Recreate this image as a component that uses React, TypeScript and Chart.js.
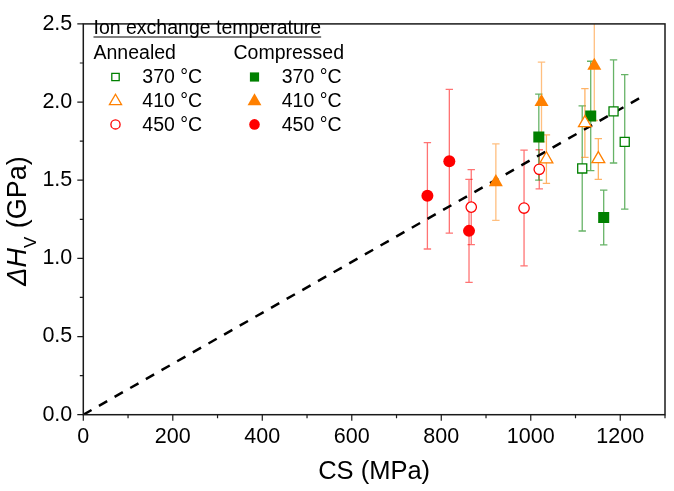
import { useEffect, useRef } from "react"
import { Chart, registerables } from "chart.js"

Chart.register(...registerables)

// values (CS in MPa, ΔHv in GPa, error = ± half bar)
const annealed370X = [1115, 1185, 1210]
const annealed370Y = [1.575, 1.94, 1.745]
const annealed370Err = [0.4, 0.33, 0.43]

const annealed410X = [1035, 1121, 1151]
const annealed410Y = [1.635, 1.866, 1.636]
const annealed410Err = [0.155, 0.22, 0.13]

const annealed450X = [867, 985, 1019]
const annealed450Y = [1.328, 1.322, 1.57]
const annealed450Err = [0.24, 0.37, 0.125]

const compressed370X = [1018, 1134, 1163]
const compressed370Y = [1.776, 1.911, 1.262]
const compressed370Err = [0.275, 0.35, 0.175]

const compressed410X = [922, 1024, 1142]
const compressed410Y = [1.488, 2.0, 2.232]
const compressed410Err = [0.245, 0.255, 0.35]

const compressed450X = [769, 818, 862]
const compressed450Y = [1.4, 1.621, 1.176]
const compressed450Err = [0.34, 0.46, 0.33]

const fitX = [0, 1254]
const fitY = [0, 2.043]

const xTicks = [0, 200, 400, 600, 800, 1000, 1200]
const yTicks = [0, 0.5, 1.0, 1.5, 2.0, 2.5]

const GREEN = "#008000"
const ORANGE = "#ff8000"
const RED = "#ff0000"
const FONT = "'Liberation Sans', Arial, Helvetica, sans-serif"

const toPoints = (xs: number[], ys: number[]) => xs.map((x, i) => ({ x, y: ys[i] }))

function drawMarker(
  ctx: CanvasRenderingContext2D,
  shape: string,
  x: number,
  y: number,
  r: number,
  color: string,
  filled: boolean
) {
  ctx.beginPath()
  if (shape === "rect") {
    ctx.rect(x - r, y - r, 2 * r, 2 * r)
  } else if (shape === "triangle") {
    const s = Math.sin((2 * Math.PI) / 3) * r
    ctx.moveTo(x, y - r)
    ctx.lineTo(x + s, y + r / 2)
    ctx.lineTo(x - s, y + r / 2)
    ctx.closePath()
  } else {
    ctx.arc(x, y, r, 0, Math.PI * 2)
  }
  if (filled) {
    ctx.fillStyle = color
    ctx.fill()
  } else {
    ctx.fillStyle = "#fff"
    ctx.fill()
    ctx.lineWidth = 1.3
    ctx.strokeStyle = color
    ctx.stroke()
  }
}

const errorBars = {
  id: "errorBars",
  beforeDatasetsDraw(chart: any) {
    const { ctx, chartArea, scales } = chart
    ctx.save()
    ctx.beginPath()
    ctx.rect(chartArea.left, chartArea.top, chartArea.right - chartArea.left, chartArea.bottom - chartArea.top)
    ctx.clip()
    chart.data.datasets.forEach((ds: any) => {
      if (!ds.errors) return
      ctx.strokeStyle = ds.errorColor
      ctx.lineWidth = 1.3
      ds.data.forEach((p: any, i: number) => {
        const x = scales.x.getPixelForValue(p.x)
        const top = scales.y.getPixelForValue(p.y + ds.errors[i])
        const bottom = scales.y.getPixelForValue(p.y - ds.errors[i])
        ctx.beginPath()
        ctx.moveTo(x, top)
        ctx.lineTo(x, bottom)
        ctx.moveTo(x - 3.7, top)
        ctx.lineTo(x + 3.7, top)
        ctx.moveTo(x - 3.7, bottom)
        ctx.lineTo(x + 3.7, bottom)
        ctx.stroke()
      })
    })
    ctx.restore()
  },
}

const frameAndText = {
  id: "frameAndText",
  afterDraw(chart: any) {
    const { ctx, chartArea, scales } = chart
    const { left, right, top, bottom } = chartArea
    ctx.save()

    // frame
    ctx.strokeStyle = "#1a1a1a"
    ctx.lineWidth = 1.5
    ctx.strokeRect(left, top, right - left, bottom - top)

    // tick marks (major where labelled, minor in between)
    ctx.lineWidth = 1.2
    ctx.beginPath()
    scales.x.ticks.forEach((t: any) => {
      const x = scales.x.getPixelForValue(t.value)
      const len = xTicks.includes(t.value) ? 6 : 3.5
      ctx.moveTo(x, bottom)
      ctx.lineTo(x, bottom + len)
    })
    scales.y.ticks.forEach((t: any) => {
      const y = scales.y.getPixelForValue(t.value)
      const major = yTicks.some((v) => Math.abs(v - t.value) < 1e-6)
      ctx.moveTo(left, y)
      ctx.lineTo(left - (major ? 6 : 3.5), y)
    })
    ctx.stroke()

    // axis titles
    ctx.fillStyle = "#000"
    ctx.textBaseline = "middle"
    ctx.textAlign = "center"
    ctx.font = `25.5px ${FONT}`
    ctx.fillText("CS (MPa)", (left + right) / 2, 472)

    ctx.save()
    ctx.translate(25.5, 221)
    ctx.rotate(-Math.PI / 2)
    ctx.textAlign = "left"
    ctx.textBaseline = "alphabetic"
    const main = `italic 27px ${FONT}`
    const plain = `27px ${FONT}`
    const sub = `17px ${FONT}`
    ctx.font = main
    const w1 = ctx.measureText("ΔH").width
    ctx.font = sub
    const w2 = ctx.measureText("V").width + 1
    ctx.font = plain
    const w3 = ctx.measureText(" (GPa)").width
    let u = -(w1 + w2 + w3) / 2
    ctx.font = main
    ctx.fillText("ΔH", u, 0)
    u += w1
    ctx.font = sub
    ctx.fillText("V", u, 10)
    u += w2
    ctx.font = plain
    ctx.fillText(" (GPa)", u, 0)
    ctx.restore()

    // legend
    ctx.textAlign = "left"
    ctx.textBaseline = "alphabetic"
    ctx.font = `19.5px ${FONT}`
    const title = "Ion exchange temperature"
    ctx.fillText(title, 93.5, 34)
    const tw = ctx.measureText(title).width
    ctx.lineWidth = 1.2
    ctx.strokeStyle = "#000"
    ctx.beginPath()
    ctx.moveTo(93.5, 37)
    ctx.lineTo(93.5 + tw, 37)
    ctx.stroke()
    ctx.fillText("Annealed", 93.5, 58.5)
    ctx.fillText("Compressed", 233.5, 58.5)

    const rows = [
      { text: "370 °C", color: GREEN, shape: "rect", y: 83.3, rOpen: 3.7, rFill: 4.6 },
      { text: "410 °C", color: ORANGE, shape: "triangle", y: 106.7, rOpen: 7, rFill: 8 },
      { text: "450 °C", color: RED, shape: "circle", y: 130.7, rOpen: 4.6, rFill: 5.3 },
    ]
    rows.forEach((row) => {
      const my = row.shape === "triangle" ? row.y - 5.5 : row.y - 6.3
      drawMarker(ctx, row.shape, 115.5, my, row.rOpen, row.color, false)
      drawMarker(ctx, row.shape, 254.5, my, row.rFill, row.color, true)
      ctx.fillStyle = "#000"
      ctx.fillText(row.text, 142.3, row.y)
      ctx.fillText(row.text, 281.7, row.y)
    })
    ctx.restore()
  },
}

export default function App() {
  const canvasRef = useRef<HTMLCanvasElement>(null)

  useEffect(() => {
    if (!canvasRef.current) return
    Chart.defaults.font.family = FONT

    const openPoint = (color: string, style: string, r: number) => ({
      pointStyle: style,
      pointRadius: r,
      pointBorderWidth: 1.3,
      pointBorderColor: color,
      pointBackgroundColor: "#fff",
      showLine: false,
    })
    const filledPoint = (color: string, style: string, r: number) => ({
      pointStyle: style,
      pointRadius: r,
      pointBorderWidth: 0,
      pointBorderColor: color,
      pointBackgroundColor: color,
      showLine: false,
    })

    const chart = new Chart(canvasRef.current, {
      type: "scatter",
      data: {
        datasets: [
          {
            label: "Annealed 370 °C",
            data: toPoints(annealed370X, annealed370Y),
            errors: annealed370Err,
            errorColor: "rgba(0,128,0,0.6)",
            ...openPoint(GREEN, "rect", 6.4),
          },
          {
            label: "Annealed 410 °C",
            data: toPoints(annealed410X, annealed410Y),
            errors: annealed410Err,
            errorColor: "rgba(255,128,0,0.6)",
            ...openPoint(ORANGE, "triangle", 7.4),
          },
          {
            label: "Annealed 450 °C",
            data: toPoints(annealed450X, annealed450Y),
            errors: annealed450Err,
            errorColor: "rgba(255,0,0,0.55)",
            ...openPoint(RED, "circle", 5.2),
          },
          {
            label: "Compressed 370 °C",
            data: toPoints(compressed370X, compressed370Y),
            errors: compressed370Err,
            errorColor: "rgba(0,128,0,0.6)",
            ...filledPoint(GREEN, "rect", 7.8),
          },
          {
            label: "Compressed 410 °C",
            data: toPoints(compressed410X, compressed410Y),
            errors: compressed410Err,
            errorColor: "rgba(255,128,0,0.5)",
            ...filledPoint(ORANGE, "triangle", 8.1),
          },
          {
            label: "Compressed 450 °C",
            data: toPoints(compressed450X, compressed450Y),
            errors: compressed450Err,
            errorColor: "rgba(255,0,0,0.55)",
            ...filledPoint(RED, "circle", 6),
          },
          {
            label: "Fit",
            data: toPoints(fitX, fitY),
            showLine: true,
            borderColor: "#000",
            borderWidth: 2.5,
            borderDash: [9.5, 8.5],
            pointRadius: 0,
            order: 1,
          },
        ] as any,
      },
      options: {
        responsive: true,
        maintainAspectRatio: false,
        animation: false,
        events: [],
        layout: { padding: { top: 9.3, right: 0.7, left: 0, bottom: 0 } },
        plugins: {
          legend: { display: false },
          tooltip: { enabled: false },
        },
        scales: {
          x: {
            type: "linear",
            min: 0,
            max: 1300,
            grid: { display: false, drawTicks: false },
            border: { display: false },
            ticks: {
              stepSize: 100,
              autoSkip: false,
              maxRotation: 0,
              padding: 9,
              color: "#000",
              font: { size: 21.5, family: FONT },
              callback: (v: any) => (xTicks.includes(v) ? String(v) : ""),
            },
            afterFit: (s: any) => {
              s.height = 76.3
            },
          },
          y: {
            min: 0,
            max: 2.5,
            grid: { display: false, drawTicks: false },
            border: { display: false },
            ticks: {
              stepSize: 0.25,
              autoSkip: false,
              padding: 11,
              color: "#000",
              font: { size: 21.5, family: FONT },
              callback: (v: any) => {
                const t = yTicks.find((y) => Math.abs(y - v) < 1e-6)
                return t === undefined ? "" : t.toFixed(1)
              },
            },
            afterFit: (s: any) => {
              s.width = 83.3
            },
          },
        },
      },
      plugins: [errorBars, frameAndText],
    })

    return () => chart.destroy()
  }, [])

  return (
    <div style={{ position: "fixed", left: 0, top: 0, width: 674, height: 491, background: "#fff" }}>
      <canvas ref={canvasRef} />
    </div>
  )
}
